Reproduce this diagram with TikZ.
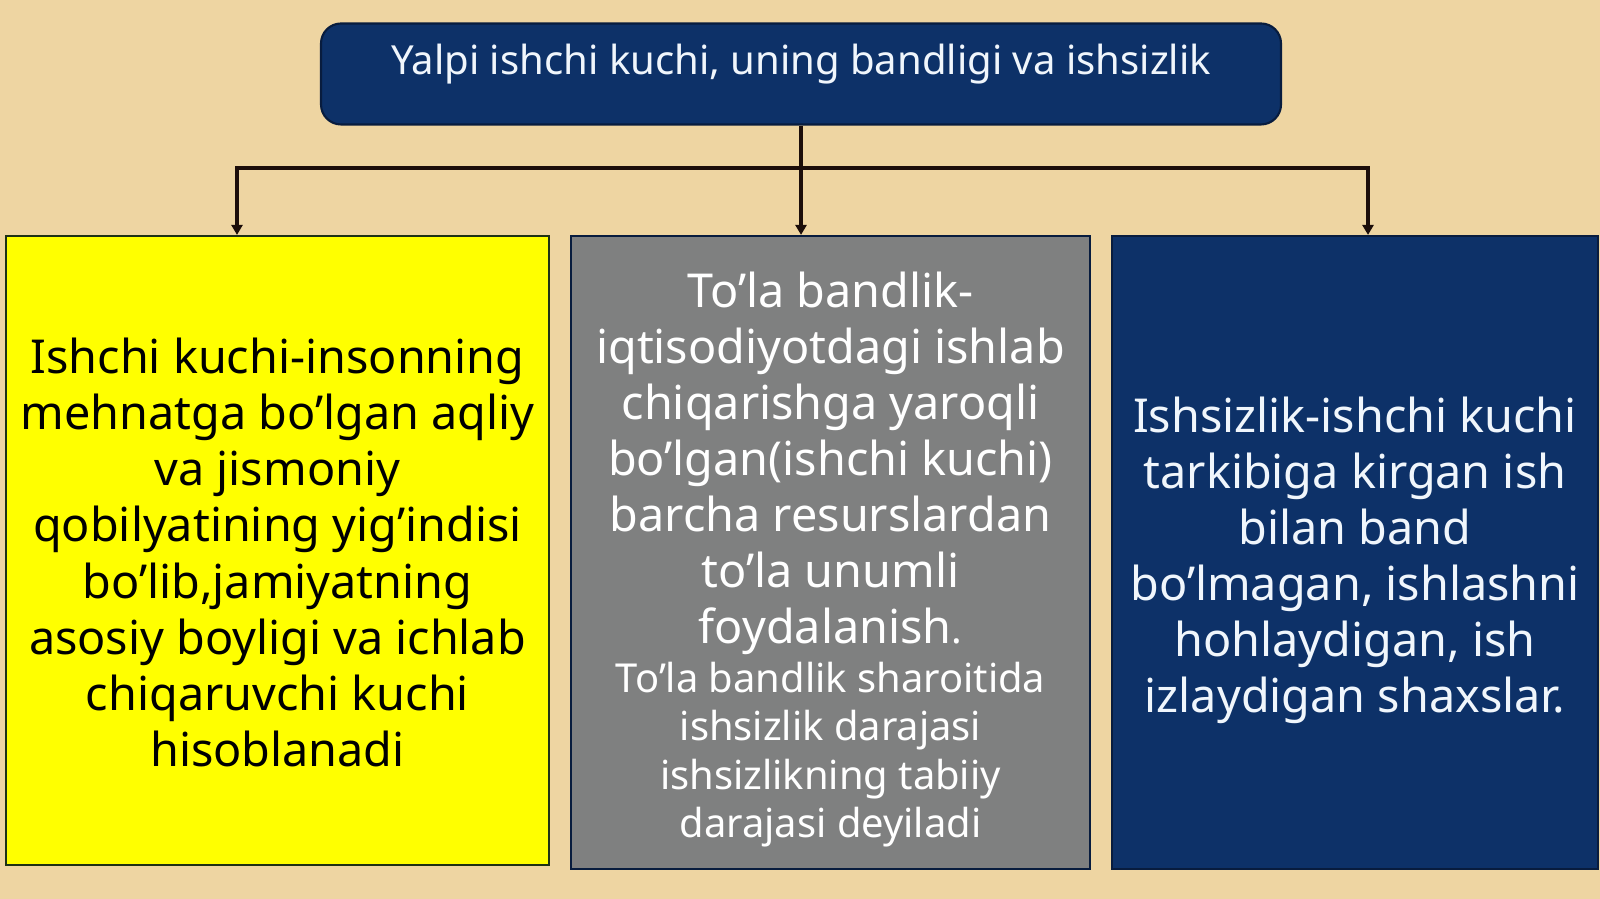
\documentclass[tikz,border=0pt]{standalone}
\usepackage{fontspec}
\setmainfont{Noto Sans}
\usepackage{tikz}
\usetikzlibrary{arrows.meta,calc}
\definecolor{navy}{RGB}{13,49,104}
\definecolor{navyline}{RGB}{8,28,62}
\definecolor{wood}{RGB}{238,213,162}
\definecolor{grey}{RGB}{127,128,128}
\definecolor{lemon}{RGB}{255,255,0}
\definecolor{lightwhite}{RGB}{240,246,252}
\definecolor{linkcol}{RGB}{28,14,10}
\newcommand\titlefont{\fontsize{11.4}{13.5}\selectfont}
\newcommand\boxfont{\fontsize{13.3}{15.95}\selectfont}
\newcommand\notefont{\fontsize{11.35}{13.7}\selectfont}

\begin{document}
\begin{tikzpicture}[
  box/.style={draw,line width=0.6pt,inner sep=0pt},
  boxtext/.style={align=center,inner sep=0pt,font=\boxfont},
  link/.style={line width=1pt,draw=linkcol},
  tip/.style={-{Triangle[length=1mm,width=1.1mm]}}
]
\fill[wood] (0,0) rectangle (16,8.99);

\node[box,fill=navy,draw=navyline,rounded corners=2mm,minimum width=9.6cm,
  text height=0.51cm,text depth=0.5cm,text=lightwhite,font=\titlefont]
  (title) at (8.01,8.25) {Yalpi ishchi kuchi, uning bandligi va ishsizlik};

\node[box,fill=lemon,draw={rgb,255:red,30;green,50;blue,20},
  minimum width=5.43cm,minimum height=6.29cm] (labour) at (2.775,3.485) {};
\node[boxtext] (labourtxt) at ([yshift=-0.02cm]labour.center)
  {Ishchi kuchi-insonning\\mehnatga bo’lgan aqliy\\va jismoniy\\qobilyatining yig’indisi\\bo’lib,jamiyatning\\asosiy boyligi va ichlab\\chiqaruvchi kuchi\\hisoblanadi};

\node[box,fill=grey,draw=navyline,
  minimum width=5.19cm,minimum height=6.33cm] (employ) at (8.305,3.465) {};
\node[boxtext,text=white] (employtxt) at ([yshift=-0.07cm]employ.center)
  {To’la bandlik-\\iqtisodiyotdagi ishlab\\chiqarishga yaroqli\\bo’lgan(ishchi kuchi)\\barcha resurslardan\\to’la unumli\\foydalanish{\notefont.}\\[-2pt]
  {\notefont To’la bandlik sharoitida}\\[-2.2pt]
  {\notefont ishsizlik darajasi}\\[-2.2pt]
  {\notefont ishsizlikning tabiiy}\\[-2.2pt]
  {\notefont darajasi deyiladi}};

\node[box,fill=navy,draw=navyline,
  minimum width=4.86cm,minimum height=6.33cm] (unemp) at (13.55,3.465) {};
\node[boxtext,text=lightwhite] (unemptxt) at ([yshift=-0.08cm]unemp.center)
  {Ishsizlik-ishchi kuchi\\tarkibiga kirgan ish\\bilan band\\bo’lmagan, ishlashni\\hohlaydigan, ish\\izlaydigan shaxslar.};

\coordinate (busL) at (2.37,7.31);
\coordinate (busR) at (13.68,7.31);
\draw[link,tip] (title.south) -- (title.south |- employ.north);
\draw[link,tip] (title.south |- busL) -- (busL) -- (busL |- labour.north);
\draw[link,tip] (title.south |- busR) -- (busR) -- (busR |- unemp.north);
\end{tikzpicture}
\end{document}
